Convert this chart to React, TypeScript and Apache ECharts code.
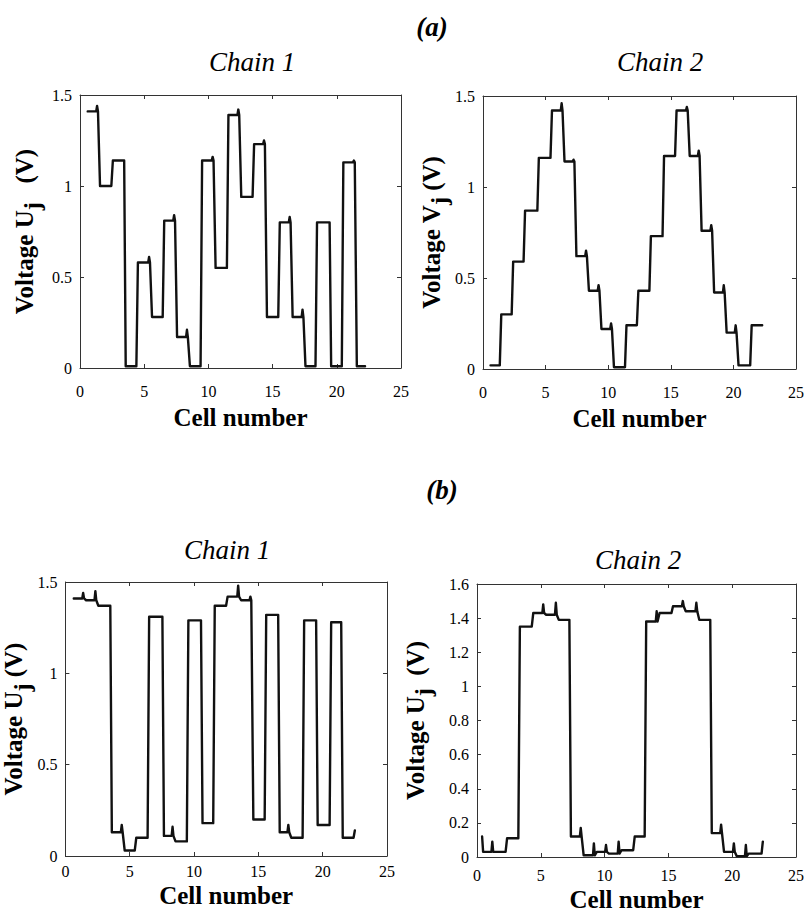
import React, { useEffect, useRef } from "react";
import * as echarts from "echarts";

const SERIF = "Liberation Serif";

// Shared cell-number axis
const xMin = 0;
const xMax = 25;
const xStep = 5;

// (a) Chain 1 — transition positions, plateau voltages (V), overshoot just before each transition
const a1Start = 0.6;
const a1End = 22.2;
const a1Edges = [1.5, 2.5, 3.5, 4.45, 5.55, 6.5, 7.5, 8.5, 9.45, 10.5, 11.5, 12.5, 13.5, 14.5, 15.5, 16.5, 17.5, 18.4, 19.5, 20.45, 21.5];
const a1Levels = [1.41, 1.0, 1.14, 0.01, 0.58, 0.28, 0.81, 0.17, 0.01, 1.14, 0.55, 1.39, 0.94, 1.23, 0.28, 0.8, 0.28, 0.01, 0.8, 0.01, 1.13, 0.01];
const a1Peaks = [1.44, null, null, null, 0.61, null, 0.84, 0.21, null, 1.16, null, 1.42, null, 1.25, null, 0.83, 0.32, null, null, null, 1.14];

// (a) Chain 2
const a2Start = 0.6;
const a2End = 22.3;
const a2Edges = [1.4, 2.35, 3.3, 4.4, 5.45, 6.45, 7.4, 8.4, 9.4, 10.4, 11.4, 12.35, 13.35, 14.4, 15.4, 16.45, 17.4, 18.4, 19.4, 20.35, 21.4];
const a2Levels = [0.02, 0.3, 0.59, 0.87, 1.16, 1.42, 1.14, 0.62, 0.43, 0.22, 0.01, 0.24, 0.43, 0.73, 1.17, 1.42, 1.17, 0.76, 0.42, 0.2, 0.02, 0.24];
const a2Peaks = [null, null, null, null, null, 1.46, 1.15, 0.65, 0.46, 0.25, null, null, null, null, null, 1.44, 1.2, 0.79, 0.46, 0.24, null];

// (b) Chain 1
const b1Start = 0.65;
const b1End = 22.5;
const b1Edges = [1.55, 2.5, 3.55, 4.55, 5.45, 6.45, 7.6, 8.5, 9.5, 10.6, 11.55, 12.55, 13.6, 14.55, 15.55, 16.6, 17.5, 18.5, 19.55, 20.6, 21.5];
const b1Levels = [1.41, 1.4, 1.37, 0.13, 0.03, 0.1, 1.31, 0.11, 0.08, 1.29, 0.18, 1.37, 1.42, 1.4, 0.2, 1.32, 0.13, 0.1, 1.29, 0.17, 1.28, 0.1];
const b1Peaks = [1.44, 1.45, null, 0.17, null, null, null, 0.16, null, null, null, null, 1.48, 1.42, null, null, 0.17, null, null, null, null];
const b1EndValue = 0.14;

// (b) Chain 2
const b2Start = 0.4;
const b2End = 22.4;
const b2StartValue = 0.12;
const b2EndValue = 0.09;
const b2Edges = [1.37, 2.3, 3.3, 4.35, 5.36, 6.35, 7.3, 8.3, 9.33, 10.28, 11.27, 12.3, 13.2, 14.25, 15.3, 16.3, 17.36, 18.34, 19.3, 20.3, 21.24];
const b2Levels = [0.03, 0.03, 0.11, 1.35, 1.43, 1.42, 1.39, 0.12, 0.01, 0.03, 0.02, 0.04, 0.12, 1.38, 1.43, 1.47, 1.44, 1.39, 0.14, 0.03, 0.005, 0.02];
const b2Peaks = [0.09, null, null, null, 1.48, 1.49, null, 0.17, 0.08, 0.07, 0.09, null, null, 1.44, null, 1.5, 1.49, null, 0.19, 0.08, 0.07];

// Turns plateau levels and transition positions into a polyline in data units
function staircase(
  start: number,
  end: number,
  edges: number[],
  levels: number[],
  peaks: (number | null)[],
  startValue?: number,
  endValue?: number
): number[][] {
  const pts: number[][] = [
    [start, startValue ?? levels[0]],
    [start + 0.08, levels[0]],
  ];
  edges.forEach((e, k) => {
    const prev = levels[k];
    const next = levels[k + 1];
    const p = peaks[k];
    if (p != null) {
      pts.push([e - 0.24, prev], [e - 0.17, p], [e - 0.1, prev]);
    }
    pts.push([e - 0.06, prev], [e + 0.06, next]);
  });
  const last = levels[levels.length - 1];
  pts.push([end - 0.1, last], [end, endValue ?? last]);
  return pts;
}

type Panel = {
  grid: { left: number; top: number; width: number; height: number };
  yMax: number;
  yStep: number;
  yName: string;
  yNameGap: number;
  xLabelMargin: number;
  xNameGap: number;
  data: number[][];
};

const panels: Panel[] = [
  {
    grid: { left: 80, top: 95, width: 321, height: 273 },
    yMax: 1.5,
    yStep: 0.5,
    yName: "{t|Voltage U}{s|j}{t|   (V)}",
    yNameGap: 36,
    xLabelMargin: 15,
    xNameGap: 37,
    data: staircase(a1Start, a1End, a1Edges, a1Levels, a1Peaks),
  },
  {
    grid: { left: 483, top: 96, width: 321, height: 273 },
    yMax: 1.5,
    yStep: 0.5,
    yName: "{t|Voltage V}{s|j}{t| (V)}",
    yNameGap: 30,
    xLabelMargin: 15,
    xNameGap: 37,
    data: staircase(a2Start, a2End, a2Edges, a2Levels, a2Peaks),
  },
  {
    grid: { left: 65, top: 582, width: 322, height: 274 },
    yMax: 1.5,
    yStep: 0.5,
    yName: "{t|Voltage U}{s|j}{t| (V)}",
    yNameGap: 30,
    xLabelMargin: 7,
    xNameGap: 27,
    data: staircase(b1Start, b1End, b1Edges, b1Levels, b1Peaks, undefined, b1EndValue),
  },
  {
    grid: { left: 477, top: 584, width: 321, height: 273 },
    yMax: 1.6,
    yStep: 0.2,
    yName: "{t|Voltage U}{s|j}{t|  (V)}",
    yNameGap: 42,
    xLabelMargin: 10,
    xNameGap: 30,
    data: staircase(b2Start, b2End, b2Edges, b2Levels, b2Peaks, b2StartValue, b2EndValue),
  },
];

// Headings: figure parts and chain names
const headings = [
  { text: "(a)", x: 432, y: 27, italic: true, bold: true },
  { text: "Chain 1", x: 252, y: 62, italic: true, bold: false },
  { text: "Chain 2", x: 660, y: 62, italic: true, bold: false },
  { text: "(b)", x: 442, y: 490, italic: true, bold: true },
  { text: "Chain 1", x: 227, y: 550, italic: true, bold: false },
  { text: "Chain 2", x: 638, y: 560, italic: true, bold: false },
];

const AXIS_COLOR = "#333";

function buildOption(): echarts.EChartsCoreOption {
  const grids: any[] = [];
  const xAxes: any[] = [];
  const yAxes: any[] = [];
  const series: any[] = [];

  panels.forEach((p, i) => {
    grids.push({ ...p.grid, containLabel: false });
    const tick = { show: true, inside: true, length: 4, lineStyle: { color: AXIS_COLOR, width: 1 } };
    const line = { show: true, onZero: false, lineStyle: { color: AXIS_COLOR, width: 1 } };
    // bottom x axis with labels
    xAxes.push({
      type: "value",
      gridIndex: i,
      position: "bottom",
      min: xMin,
      max: xMax,
      interval: xStep,
      axisLine: line,
      axisTick: tick,
      splitLine: { show: false },
      axisLabel: { color: "#000", fontFamily: SERIF, fontSize: 16, margin: p.xLabelMargin },
      name: "Cell number",
      nameLocation: "middle",
      nameGap: p.xNameGap,
      nameTextStyle: { color: "#000", fontFamily: SERIF, fontSize: 25, fontWeight: "bold" },
    });
    // top frame edge
    xAxes.push({
      type: "value",
      gridIndex: i,
      position: "top",
      min: xMin,
      max: xMax,
      interval: xStep,
      axisLine: line,
      axisTick: tick,
      splitLine: { show: false },
      axisLabel: { show: false },
    });
    yAxes.push({
      type: "value",
      gridIndex: i,
      position: "left",
      min: 0,
      max: p.yMax,
      interval: p.yStep,
      axisLine: line,
      axisTick: tick,
      splitLine: { show: false },
      axisLabel: { color: "#000", fontFamily: SERIF, fontSize: 16, margin: 8 },
      name: p.yName,
      nameLocation: "middle",
      nameGap: p.yNameGap,
      nameTextStyle: {
        color: "#000",
        fontFamily: SERIF,
        fontSize: 25,
        fontWeight: "bold",
        rich: {
          t: { color: "#000", fontFamily: SERIF, fontSize: 25, fontWeight: "bold" },
          s: { color: "#000", fontFamily: SERIF, fontSize: 24, fontWeight: "bold", padding: [16, 0, 0, 0] },
        },
      },
    });
    // right frame edge
    yAxes.push({
      type: "value",
      gridIndex: i,
      position: "right",
      min: 0,
      max: p.yMax,
      interval: p.yStep,
      axisLine: line,
      axisTick: tick,
      splitLine: { show: false },
      axisLabel: { show: false },
    });
    series.push({
      type: "line",
      xAxisIndex: i * 2,
      yAxisIndex: i * 2,
      data: p.data,
      showSymbol: false,
      symbol: "none",
      lineStyle: { color: "#111", width: 2.4, join: "round", cap: "round" },
      silent: true,
    });
  });

  return {
    animation: false,
    backgroundColor: "#fff",
    textStyle: { fontFamily: SERIF },
    grid: grids,
    xAxis: xAxes,
    yAxis: yAxes,
    series,
    graphic: headings.map((h) => ({
      type: "text",
      x: h.x,
      y: h.y,
      silent: true,
      style: {
        text: h.text,
        fill: "#000",
        fontFamily: SERIF,
        fontSize: 27,
        fontStyle: h.italic ? "italic" : "normal",
        fontWeight: h.bold ? "bold" : "normal",
        align: "center",
        verticalAlign: "middle",
      },
    })),
  };
}

export default function App() {
  const ref = useRef<HTMLDivElement>(null);
  useEffect(() => {
    document.body.style.margin = "0";
    if (!ref.current) return;
    const chart = echarts.init(ref.current, undefined, { renderer: "svg" });
    chart.setOption(buildOption());
    return () => chart.dispose();
  }, []);
  return <div ref={ref} style={{ width: 807, height: 914, background: "#fff" }} />;
}
